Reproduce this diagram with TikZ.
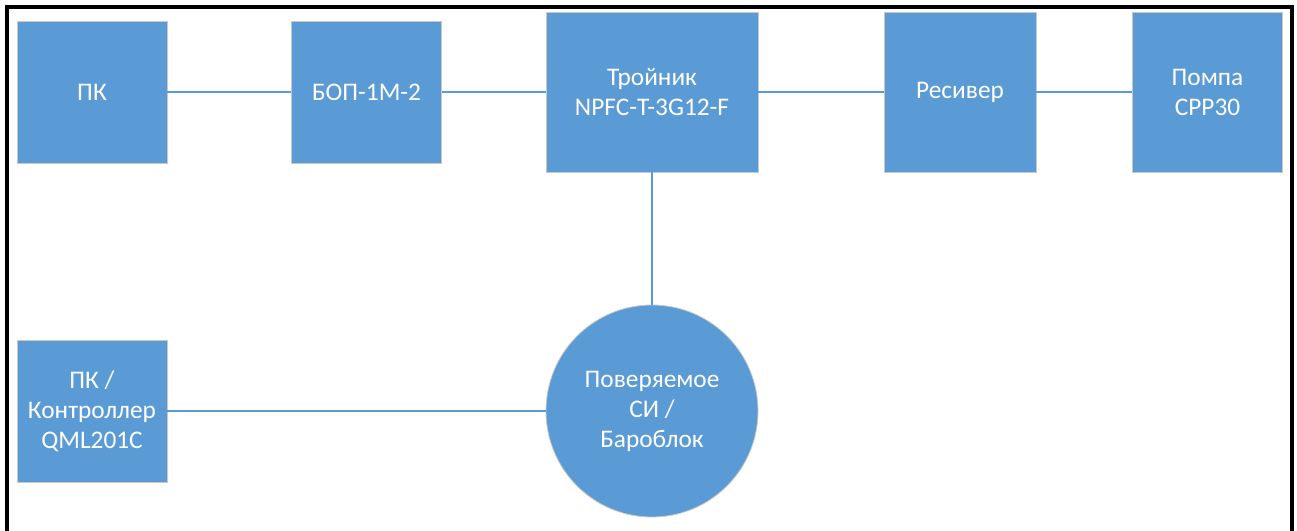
\documentclass[tikz,border=0pt]{standalone}
\usepackage{fontspec}
\setmainfont{Carlito}
\usepackage{tikz}
\definecolor{boxblue}{RGB}{91,155,213}
\definecolor{boxrim}{RGB}{200,200,200}

\begin{document}
\begin{tikzpicture}[x=0.75pt, y=-0.75pt,
    unit/.style = {rectangle, fill=boxblue, draw=boxrim, line width=0.6pt,
      text=white, align=center, inner sep=0pt,
      font=\fontsize{19}{22.5}\selectfont},
    dut/.style = {circle, fill=boxblue, draw=boxrim, line width=0.6pt,
      text=white, align=center, inner sep=0pt, minimum size=159pt,
      font=\fontsize{19}{22.5}\selectfont},
    link/.style = {draw=boxblue, line width=1.6pt}]
    \useasboundingbox (0,0) rectangle (1297,531);
    % Draw the frame
    \draw[line width=2.4pt] (7,531) -- (7,7) -- (1292,7) -- (1292,531);
    % Draw the units of the upper row
    \node[unit, minimum width=112.5pt, minimum height=106.5pt] (pk) at (92,92) {ПК};
    \node[unit, minimum width=113pt, minimum height=106.5pt] (bop) at (366.5,92) {БОП-1М-2};
    \node[unit, minimum width=159pt, minimum height=120pt] (tee) at (652,92) {Тройник\\NPFC-T-3G12-F};
    \node[unit, minimum width=114pt, minimum height=120pt] (receiver) at (960,92) {Ресивер};
    \node[unit, minimum width=113pt, minimum height=120pt] (pump) at (1207.5,92) {Помпа\\CPP30};
    % Draw the lower row
    \node[unit, minimum width=112.5pt, minimum height=106.5pt] (ctrl) at (92,411) {ПК /\\Контроллер\\QML201C};
    \node[dut] (si) at (652,411) {Поверяемое\\СИ /\\Бароблок};
    % Draw the links
    \draw[link] (pk) -- (bop);
    \draw[link] (bop) -- (tee);
    \draw[link] (tee) -- (receiver);
    \draw[link] (receiver) -- (pump);
    \draw[link] (tee) -- (si);
    \draw[link] (ctrl) -- (si);
  \end{tikzpicture}
\end{document}
